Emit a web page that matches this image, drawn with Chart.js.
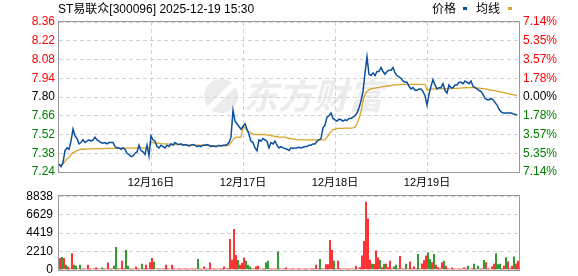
<!DOCTYPE html>
<html>
<head>
<meta charset="utf-8">
<script src="https://cdn.jsdelivr.net/npm/chart.js@4.4.1/dist/chart.umd.min.js"></script>
<style>
  html, body { margin: 0; padding: 0; background: #fff; }
  #wrap { position: relative; width: 578px; height: 276px; overflow: hidden;
          font-family: "Liberation Sans", "Noto Sans CJK SC", sans-serif; color: #000; }
  .txt { position: absolute; top: 2px; font-size: 12px; line-height: 14px; white-space: nowrap; }
  .sw { position: absolute; top: 7px; width: 4px; height: 3px; }
  #priceBox { position: absolute; left: 0; top: 0; width: 578px; height: 192px; }
  #volBox { position: absolute; left: 0; top: 183px; width: 578px; height: 100px; }
</style>
</head>
<body>
<div id="wrap">
  <div id="priceBox"><canvas id="priceChart"></canvas></div>
  <div id="volBox"><canvas id="volChart"></canvas></div>
  <div class="txt" style="left:58px">ST易联众[300096] 2025-12-19 15:30</div>
  <div class="txt" style="left:432px">价格</div>
  <div class="sw" style="left:463px;background:#0b4fa1"></div>
  <div class="txt" style="left:476px">均线</div>
  <div class="sw" style="left:508px;background:#dba42a"></div>
</div>
<script>
// 5 trading days, each sampled into 46 points
const N = 46;
const dayLabels = ["12月16日", "12月17日", "12月18日", "12月19日"];
const preClose = 7.80;

const priceTicks = [8.36, 8.22, 8.08, 7.94, 7.80, 7.66, 7.52, 7.38, 7.24];
const pctTicks = ["7.14%", "5.35%", "3.57%", "1.78%", "0.00%", "1.78%", "3.57%", "5.35%", "7.14%"];
const volTicks = [0, 2210, 4419, 6629, 8838];

// price (blue line)
const price15 = [7.30, 7.28, 7.31, 7.40, 7.42, 7.41, 7.47, 7.56, 7.51, 7.49,
  7.45, 7.46, 7.48, 7.46, 7.47, 7.48, 7.47, 7.48, 7.50, 7.48,
  7.47, 7.46, 7.455, 7.46, 7.45, 7.46, 7.46, 7.46, 7.43, 7.42,
  7.42, 7.41, 7.42, 7.41, 7.38, 7.37, 7.355, 7.36, 7.38, 7.39,
  7.44, 7.40, 7.39, 7.37, 7.44, 7.36];
const price16 = [7.51, 7.48, 7.47, 7.43, 7.42, 7.44, 7.43, 7.42, 7.44, 7.43,
  7.45, 7.44, 7.46, 7.45, 7.445, 7.45, 7.44, 7.445, 7.44, 7.435,
  7.44, 7.445, 7.44, 7.43, 7.435, 7.43, 7.44, 7.44, 7.445, 7.44,
  7.43, 7.435, 7.43, 7.43, 7.44, 7.435, 7.44, 7.44, 7.445, 7.46,
  7.50, 7.70, 7.62, 7.60, 7.58, 7.56];
const price17 = [7.58, 7.60, 7.56, 7.52, 7.47, 7.46, 7.42, 7.40, 7.48, 7.47,
  7.49, 7.48, 7.47, 7.42, 7.46, 7.45, 7.47, 7.44, 7.42, 7.43,
  7.42, 7.415, 7.41, 7.40, 7.42, 7.415, 7.42, 7.42, 7.425, 7.42,
  7.425, 7.43, 7.43, 7.44, 7.44, 7.45, 7.45, 7.47, 7.48, 7.49,
  7.57, 7.59, 7.65, 7.66, 7.68, 7.64];
const price18 = [7.63, 7.62, 7.635, 7.63, 7.62, 7.63, 7.625, 7.64, 7.64, 7.65,
  7.66, 7.68, 7.72, 7.77, 7.84, 7.98, 8.10, 7.97, 7.96, 7.98,
  7.96, 7.99, 7.99, 8.02, 7.99, 7.97, 7.99, 8.00, 8.00, 8.02,
  7.98, 7.96, 7.95, 7.94, 7.92, 7.91, 7.91, 7.88, 7.86, 7.87,
  7.85, 7.85, 7.86, 7.86, 7.84, 7.81];
const price19 = [7.74, 7.82, 7.88, 7.93, 7.89, 7.86, 7.87, 7.87, 7.90, 7.85,
  7.83, 7.89, 7.87, 7.87, 7.89, 7.89, 7.91, 7.91, 7.90, 7.92,
  7.91, 7.90, 7.92, 7.88, 7.87, 7.86, 7.85, 7.84, 7.82, 7.79,
  7.78, 7.78, 7.79, 7.78, 7.76, 7.74, 7.71, 7.69, 7.68, 7.68,
  7.68, 7.68, 7.68, 7.675, 7.67, 7.665];

// average price (orange line)
const avg15 = [7.29, 7.29, 7.30, 7.32, 7.34, 7.35, 7.37, 7.385, 7.39, 7.40,
  7.405, 7.41, 7.41, 7.41, 7.412, 7.412, 7.412, 7.412, 7.415, 7.415,
  7.415, 7.415, 7.415, 7.417, 7.417, 7.417, 7.417, 7.417, 7.417, 7.418,
  7.418, 7.418, 7.418, 7.418, 7.418, 7.418, 7.418, 7.418, 7.418, 7.419,
  7.419, 7.42, 7.42, 7.42, 7.42, 7.42];
const avg16 = [7.466, 7.46, 7.455, 7.455, 7.455, 7.452, 7.45, 7.45, 7.45, 7.448,
  7.447, 7.446, 7.445, 7.445, 7.444, 7.444, 7.443, 7.443, 7.442, 7.442,
  7.441, 7.441, 7.44, 7.44, 7.44, 7.44, 7.44, 7.44, 7.438, 7.437,
  7.436, 7.436, 7.435, 7.435, 7.435, 7.435, 7.435, 7.435, 7.436, 7.44,
  7.46, 7.48, 7.495, 7.50, 7.50, 7.50];
const avg17 = [7.58, 7.57, 7.55, 7.54, 7.53, 7.525, 7.52, 7.52, 7.52, 7.52,
  7.52, 7.52, 7.515, 7.515, 7.51, 7.51, 7.505, 7.505, 7.50, 7.50,
  7.50, 7.50, 7.495, 7.49, 7.49, 7.485, 7.485, 7.48, 7.48, 7.48,
  7.48, 7.48, 7.48, 7.48, 7.48, 7.48, 7.48, 7.48, 7.48, 7.48,
  7.48, 7.48, 7.50, 7.52, 7.54, 7.555];
const avg18 = [7.56, 7.565, 7.566, 7.566, 7.566, 7.567, 7.567, 7.568, 7.568, 7.57,
  7.575, 7.60, 7.64, 7.69, 7.77, 7.82, 7.84, 7.855, 7.86, 7.865,
  7.867, 7.87, 7.872, 7.875, 7.877, 7.88, 7.882, 7.884, 7.886, 7.888,
  7.89, 7.891, 7.892, 7.893, 7.894, 7.895, 7.895, 7.895, 7.895, 7.895,
  7.895, 7.895, 7.895, 7.895, 7.895, 7.895];
const avg19 = [7.85, 7.855, 7.86, 7.86, 7.86, 7.86, 7.86, 7.86, 7.862, 7.862,
  7.862, 7.862, 7.863, 7.864, 7.865, 7.865, 7.866, 7.867, 7.868, 7.869,
  7.87, 7.87, 7.87, 7.87, 7.87, 7.868, 7.866, 7.864, 7.862, 7.86,
  7.858, 7.855, 7.852, 7.85, 7.847, 7.844, 7.84, 7.837, 7.834, 7.83,
  7.827, 7.824, 7.82, 7.817, 7.814, 7.81];

// volume, negative = down minute (green)
const vol15 = [1430, -1550, 1430, -600, 400, 150, 1990, -600, -480, 150,
  -600, 120, 150, 150, 600, 150, 120, 150, 280, 150,
  120, -280, 150, 150, 880, 120, 150, -480, -2750, 150,
  150, 1080, 150, -2390, -480, 150, 120, 150, 400, 150,
  120, -720, 150, 600, 150, 900];
const vol16 = [1430, -955, 150, 150, 120, 150, 150, 600, 150, 120,
  600, 150, 120, 150, 150, 120, 150, 150, 120, 150,
  150, 120, 150, -1310, 150, 120, 400, 150, 120, 880,
  150, 150, 120, 150, 150, 150, 400, 150, 150, 3700,
  1200, 4895, 1790, -1190, 600, 840];
const vol17 = [1470, -1075, -600, -400, 150, 150, 400, 500, 150, 120,
  150, -880, -1075, 150, 120, 150, 150, -2190, 150, 120,
  150, 280, 150, 120, 150, 150, 120, 150, 150, 120,
  150, 150, 120, 150, 150, 150, 600, 150, -1310, 150,
  150, 680, 680, 3580, 2390, -1075];
const vol18 = [150, 1075, 150, 120, 150, 150, 120, 150, 150, 120,
  480, 150, 300, 1710, 3460, 8160, 6170, 1200, -716, 700,
  2310, 1470, -1190, 300, -716, 716, 300, 1075, 150, -400,
  -600, 150, 1670, 150, 120, -716, 150, 1000, 150, 400,
  150, -1910, 150, 760, 1190, 1710];
const vol19 = [-2110, -1310, 915, -1910, 600, 300, 150, 915, -1075, 480,
  150, 120, 280, 150, 120, 150, 120, 150, 280, 150,
  -480, 120, 150, -716, 150, -480, 120, 150, -1190, 915,
  150, 120, 400, 716, -1990, -680, -716, 150, 480, -1510,
  1000, 150, 480, -1590, 760, 1075];

const prices = [...price15, ...price16, ...price17, ...price18, ...price19];
const avgs = [...avg15, ...avg16, ...avg17, ...avg18, ...avg19];
const vols = [...vol15, ...vol16, ...vol17, ...vol18, ...vol19];
const dayStarts = dayLabels.map((d, i) => (i + 1) * N);

const FONT = '"Liberation Sans", "Noto Sans CJK SC", sans-serif';
const GRID = "#d2d2d2";
const RED = "#ff0000";
const GREEN = "#008000";

Chart.defaults.font.family = FONT;
Chart.defaults.font.size = 12;

const levelColor = (v) => (v > preClose ? RED : v < preClose ? GREEN : "#000000");

// grey frame round the plot, plus the faint watermark
const frame = {
  id: "frame",
  beforeDraw(chart, args, opts) {
    if (!opts.mark) return;
    const ctx = chart.ctx;
    ctx.save();
    ctx.fillStyle = "#ececec";
    ctx.font = 'italic bold 35px "Noto Sans CJK SC"';
    ctx.textBaseline = "middle";
    ctx.fillText("东方财富", 243, 96);
    ctx.beginPath();
    ctx.arc(221, 96, 17, 0, Math.PI * 2);
    ctx.fill();
    ctx.fillStyle = "#ffffff";
    ctx.beginPath();
    ctx.moveTo(206, 108); ctx.lineTo(232, 82); ctx.lineTo(236, 86); ctx.lineTo(210, 112);
    ctx.fill();
    ctx.restore();
  },
  afterDatasetsDraw(chart) {
    const { ctx, chartArea: a } = chart;
    ctx.save();
    ctx.strokeStyle = "#999999";
    ctx.lineWidth = 1;
    ctx.strokeRect(Math.round(a.left) - 0.5, Math.round(a.top) - 0.5,
      Math.round(a.right - a.left) + 1, Math.round(a.bottom - a.top) + 1);
    ctx.restore();
  },
};

const priceChart = new Chart(document.getElementById("priceChart"), {
  type: "line",
  data: {
    datasets: [
      {
        label: "价格",
        data: prices.map((v, i) => ({ x: i, y: v })),
        borderColor: "#0b4fa1",
        borderWidth: 1.5,
        pointRadius: 0,
        tension: 0,
      },
      {
        label: "均线",
        data: avgs.map((v, i) => ({ x: i, y: v })),
        borderColor: "#dba42a",
        borderWidth: 1.3,
        pointRadius: 0,
        tension: 0,
      },
    ],
  },
  options: {
    animation: false,
    responsive: true,
    maintainAspectRatio: false,
    layout: { padding: { top: 22, left: 0, right: 0, bottom: 0 } },
    plugins: { legend: { display: false }, tooltip: { enabled: false }, frame: { mark: true } },
    scales: {
      x: {
        type: "linear",
        min: 0,
        max: N * 5,
        afterBuildTicks: (s) => { s.ticks = dayStarts.map((v) => ({ value: v })); },
        afterFit: (s) => { s.height = 20; },
        ticks: {
          autoSkip: false,
          maxRotation: 0,
          padding: 4,
          color: "#000",
          font: { size: 11 },
          callback: (v, i) => dayLabels[i],
        },
        grid: { color: GRID, drawTicks: false },
        border: { display: false, dash: [4, 3] },
      },
      y: {
        position: "left",
        min: priceTicks[priceTicks.length - 1],
        max: priceTicks[0],
        afterBuildTicks: (s) => { s.ticks = priceTicks.map((v) => ({ value: v })); },
        afterFit: (s) => { s.width = 59; },
        ticks: {
          padding: 4,
          color: (c) => levelColor(c.tick.value),
          callback: (v) => v.toFixed(2),
        },
        grid: { color: GRID, drawTicks: false },
        border: { display: false, dash: [4, 3] },
      },
      y2: {
        position: "right",
        min: priceTicks[priceTicks.length - 1],
        max: priceTicks[0],
        afterBuildTicks: (s) => { s.ticks = priceTicks.map((v) => ({ value: v })); },
        afterFit: (s) => { s.width = 59; },
        ticks: {
          padding: 4,
          color: (c) => levelColor(c.tick.value),
          callback: (v) => pctTicks[priceTicks.indexOf(v)],
        },
        grid: { display: false, drawTicks: false },
        border: { display: false },
      },
    },
  },
  plugins: [frame],
});

const volChart = new Chart(document.getElementById("volChart"), {
  type: "bar",
  data: {
    labels: vols.map((v, i) => i),
    datasets: [
      {
        data: vols.map((v) => Math.abs(v)),
        backgroundColor: vols.map((v) => (v < 0 ? GREEN : RED)),
        borderWidth: 0,
        barPercentage: 0.8,
        categoryPercentage: 1,
      },
    ],
  },
  options: {
    animation: false,
    responsive: true,
    maintainAspectRatio: false,
    layout: { padding: { top: 8, left: 0, right: 59, bottom: 8 } },
    plugins: { legend: { display: false }, tooltip: { enabled: false }, frame: { mark: false } },
    scales: {
      x: { display: false },
      y: {
        min: 0,
        max: volTicks[volTicks.length - 1],
        afterBuildTicks: (s) => { s.ticks = volTicks.map((v) => ({ value: v })); },
        afterFit: (s) => { s.width = 59; },
        ticks: { padding: 6, color: "#000", callback: (v) => String(v) },
        grid: { color: GRID, drawTicks: false },
        border: { display: false, dash: [4, 3] },
      },
    },
  },
  plugins: [frame],
});
</script>
</body>
</html>
